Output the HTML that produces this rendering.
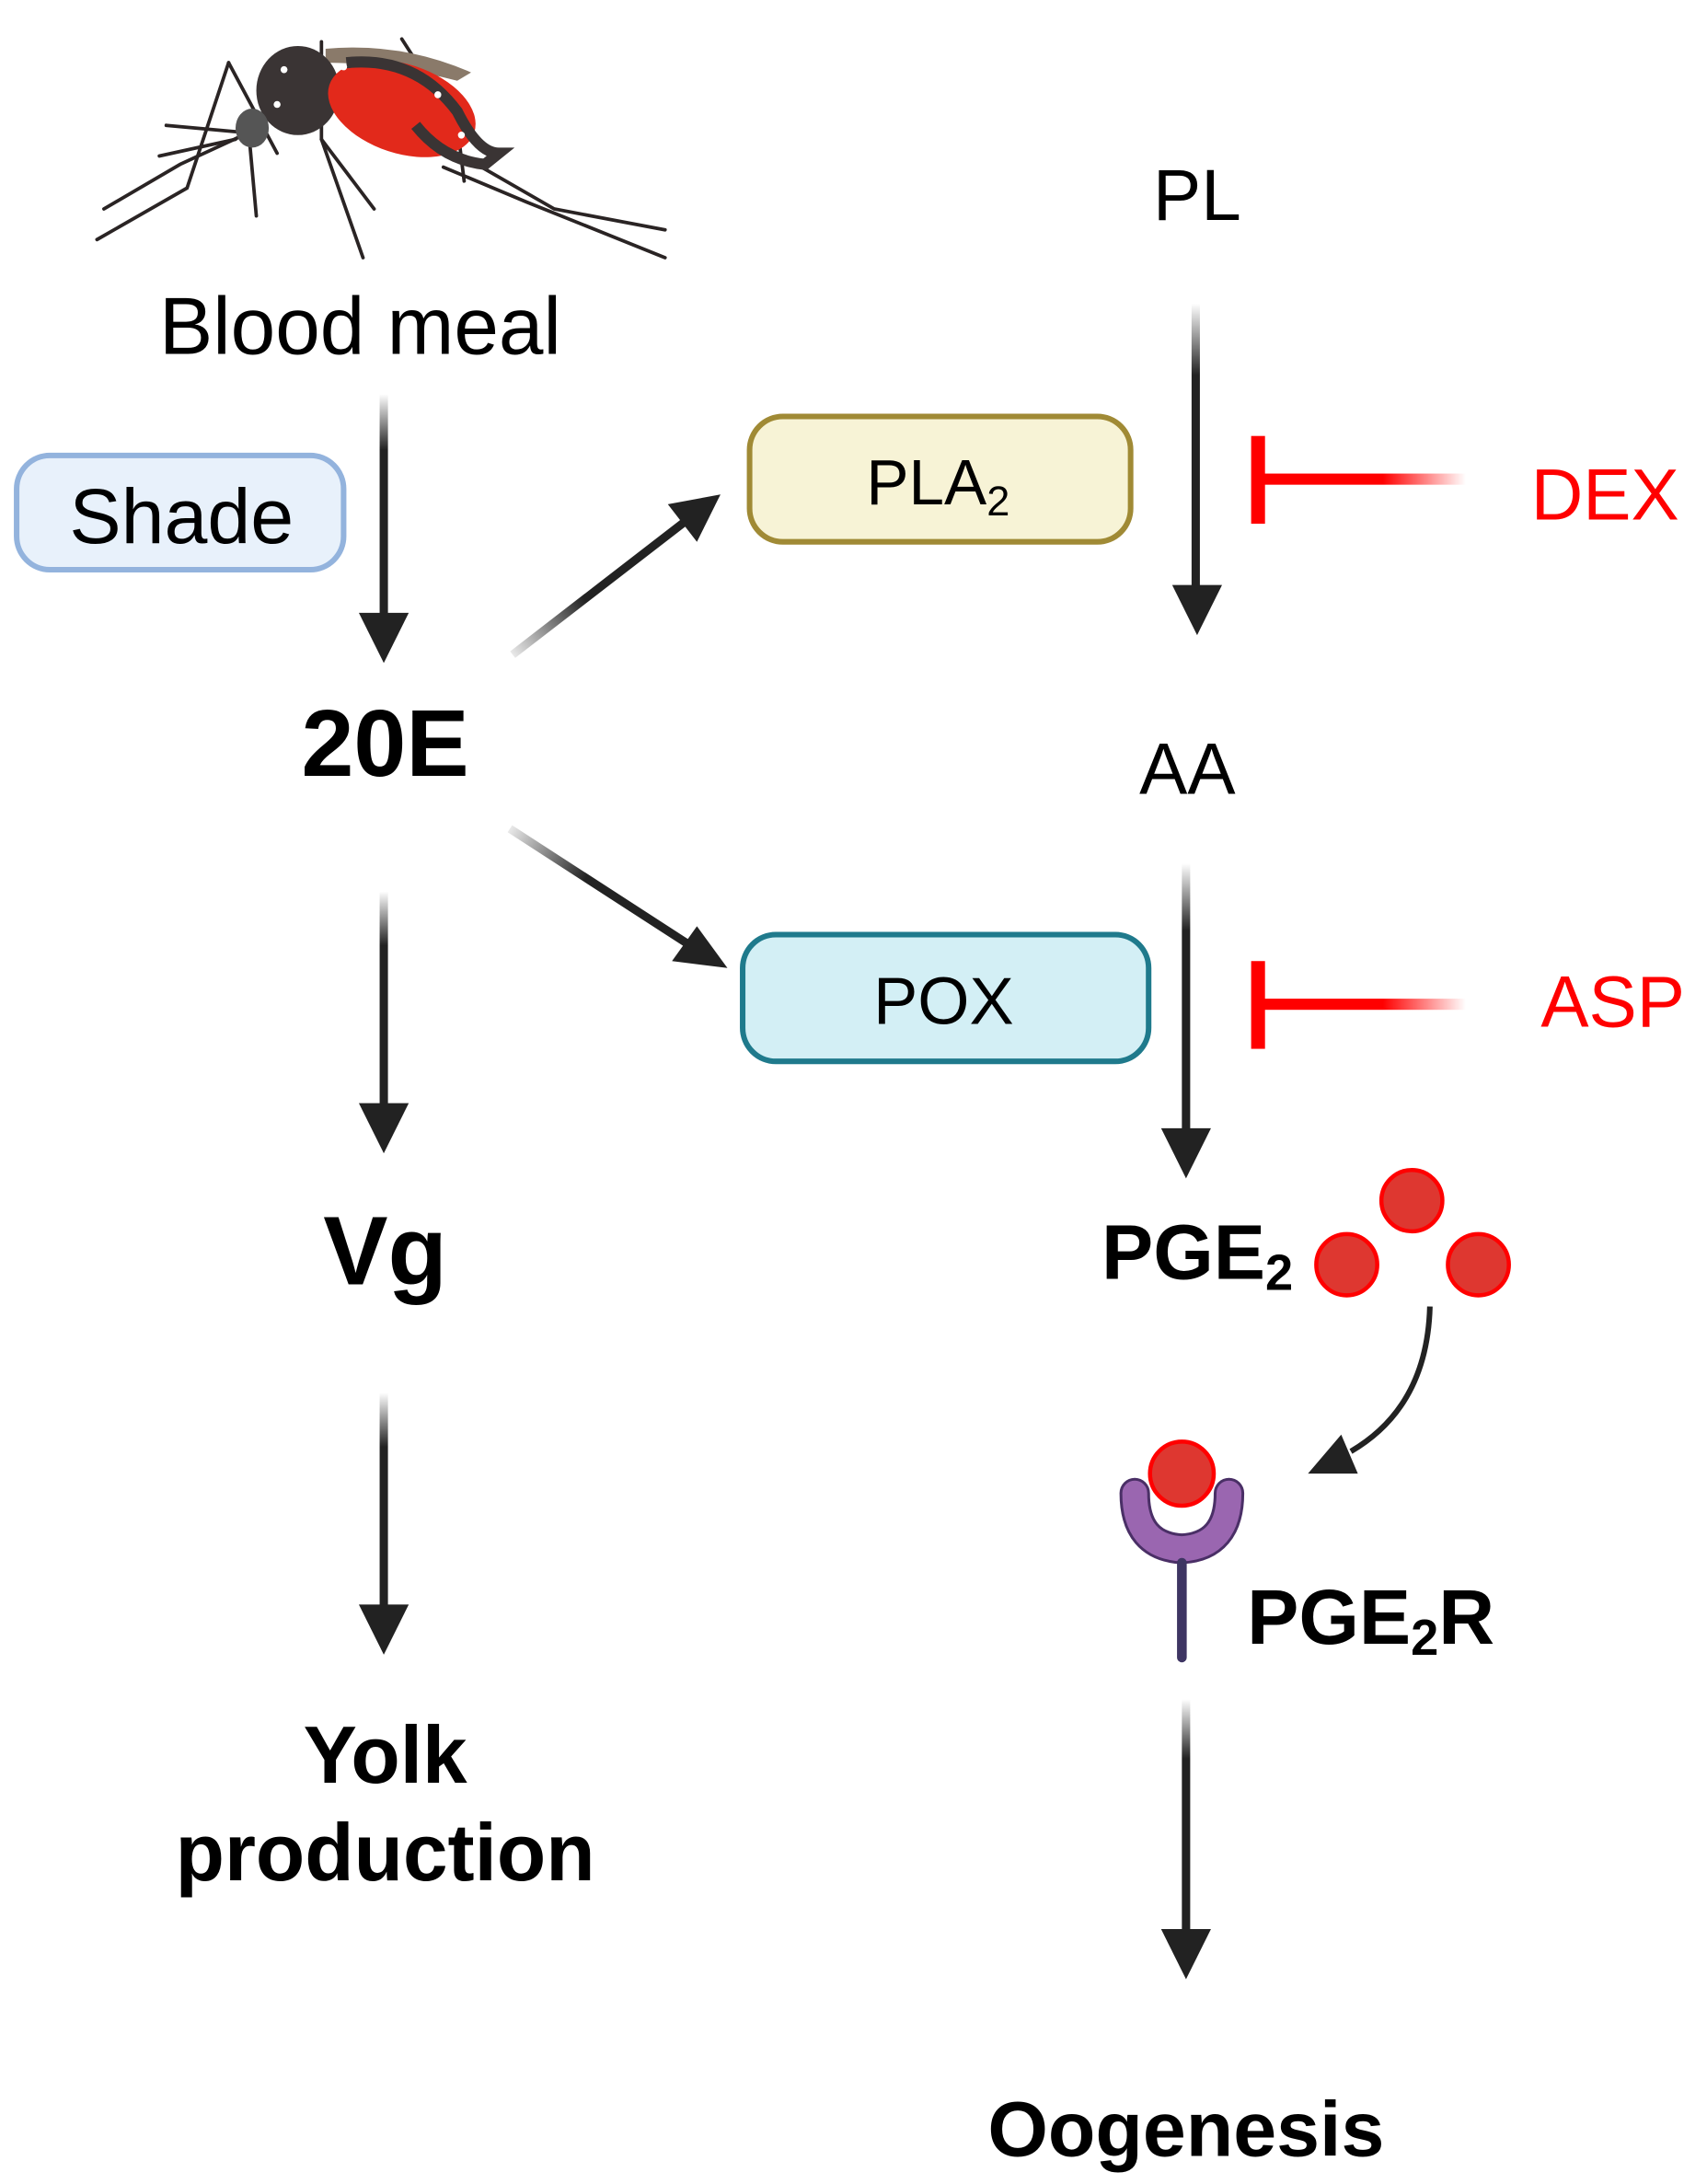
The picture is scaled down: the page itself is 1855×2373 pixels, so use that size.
<!DOCTYPE html>
<html><head><meta charset="utf-8"><style>
html,body{margin:0;padding:0;background:#fff;}
svg{display:block;}
text{font-family:"Liberation Sans",sans-serif;}
</style></head><body>
<svg width="1855" height="2373" viewBox="0 0 1232 1568" preserveAspectRatio="none" xmlns="http://www.w3.org/2000/svg">
<defs>
<linearGradient id="gv" x1="0" y1="0" x2="0" y2="1"><stop offset="0" stop-color="#222" stop-opacity="0"/><stop offset="0.25" stop-color="#222"/><stop offset="1" stop-color="#222"/></linearGradient>
<linearGradient id="gr" x1="1" y1="0" x2="0" y2="0"><stop offset="0" stop-color="#ff0000" stop-opacity="0"/><stop offset="0.4" stop-color="#ff0000"/><stop offset="1" stop-color="#ff0000"/></linearGradient>
<linearGradient id="gd1" gradientUnits="userSpaceOnUse" x1="370" y1="470" x2="500" y2="370"><stop offset="0" stop-color="#222" stop-opacity="0.1"/><stop offset="0.4" stop-color="#222"/></linearGradient>
<linearGradient id="gd2" gradientUnits="userSpaceOnUse" x1="368" y1="595" x2="505" y2="683"><stop offset="0" stop-color="#222" stop-opacity="0.1"/><stop offset="0.4" stop-color="#222"/></linearGradient>
</defs>

<!-- mosquito -->
<g stroke="#2a2424" stroke-width="2.5" fill="none" stroke-linecap="round">
<path d="M165 45 L135 135 L70 172"/>
<path d="M165 45 L200 110"/>
<path d="M180 95 L130 118 L75 150"/>
<path d="M232 30 L232 100 L262 185"/>
<path d="M232 100 L270 150"/>
<path d="M290 28 L330 90 L335 130"/>
<path d="M330 110 L400 150 L480 165"/>
<path d="M320 120 L380 145 L480 185"/>
<path d="M180 100 L185 155"/>
<path d="M120 90 L175 95"/>
<path d="M115 112 L170 100"/>
</g>
<path d="M235 35 Q290 30 340 52 L330 58 Q280 45 235 45Z" fill="#8a7a6a"/>
<ellipse cx="215" cy="65" rx="30" ry="32" fill="#3a3434"/>
<ellipse cx="290" cy="78" rx="55" ry="32" fill="#e2291b" transform="rotate(18 290 78)"/>
<path d="M250 45 Q300 40 330 80 Q345 110 360 110 L350 118 Q320 115 300 90" fill="none" stroke="#3a3434" stroke-width="8"/>
<ellipse cx="182" cy="92" rx="12" ry="14" fill="#555"/>
<g fill="#fff"><circle cx="205" cy="50" r="2.5"/><circle cx="200" cy="75" r="2.5"/><circle cx="248" cy="48" r="2.5"/><circle cx="316" cy="68" r="2.5"/><circle cx="333" cy="97" r="2.5"/></g>

<text x="260" y="254" font-size="58" text-anchor="middle">Blood meal</text>

<rect x="12" y="327" width="236" height="82" rx="24" fill="#e8f1fb" stroke="#93b3dd" stroke-width="4"/>
<text x="131" y="390" font-size="56" text-anchor="middle">Shade</text>

<rect x="274" y="283" width="6" height="160" fill="url(#gv)"/>
<polygon points="259,440 295,440 277,476" fill="#222"/>

<text x="278" y="557" font-size="68" font-weight="bold" text-anchor="middle">20E</text>

<line x1="370" y1="470" x2="495" y2="374" stroke="url(#gd1)" stroke-width="6"/>
<polygon points="520,355 482,362 503,389" fill="#222"/>

<rect x="541" y="299" width="275" height="90" rx="24" fill="#f7f3d6" stroke="#a08a35" stroke-width="4"/>
<text x="677" y="362" font-size="46" text-anchor="middle">PLA<tspan font-size="30" dy="8">2</tspan></text>

<text x="864" y="158" font-size="52" text-anchor="middle">PL</text>
<rect x="860" y="218" width="6" height="205" fill="url(#gv)"/>
<polygon points="846,420 882,420 864,456" fill="#222"/>

<rect x="903" y="313" width="10" height="63" fill="#ff0000"/>
<rect x="908" y="340" width="150" height="8" fill="url(#gr)"/>
<text x="1105" y="373" font-size="52" fill="#ff0000">DEX</text>

<text x="857" y="570" font-size="52" text-anchor="middle">AA</text>

<line x1="368" y1="595" x2="500" y2="680" stroke="url(#gd2)" stroke-width="6"/>
<polygon points="525,695 485,690 503,665" fill="#222"/>

<rect x="536" y="671" width="293" height="91" rx="24" fill="#d3eff5" stroke="#1f7a8c" stroke-width="4"/>
<text x="681" y="735" font-size="48" text-anchor="middle">POX</text>

<rect x="853" y="620" width="6" height="192" fill="url(#gv)"/>
<polygon points="838,810 874,810 856,846" fill="#222"/>

<rect x="903" y="690" width="10" height="63" fill="#ff0000"/>
<rect x="908" y="717" width="150" height="8" fill="url(#gr)"/>
<text x="1112" y="737" font-size="52" fill="#ff0000">ASP</text>

<rect x="274" y="640" width="6" height="155" fill="url(#gv)"/>
<polygon points="259,792 295,792 277,828" fill="#222"/>
<text x="278" y="922" font-size="70" font-weight="bold" text-anchor="middle">Vg</text>

<rect x="274" y="1000" width="6" height="155" fill="url(#gv)"/>
<polygon points="259,1152 295,1152 277,1188" fill="#222"/>
<text x="278" y="1280" font-size="58" font-weight="bold" text-anchor="middle">Yolk</text>
<text x="278" y="1350" font-size="58" font-weight="bold" text-anchor="middle">production</text>

<text x="795" y="918" font-size="56" font-weight="bold">PGE<tspan font-size="36" dy="8">2</tspan></text>
<g fill="#de3730" stroke="#ff0000" stroke-width="3">
<circle cx="1019" cy="862" r="22"/><circle cx="972" cy="908" r="22"/><circle cx="1067" cy="908" r="22"/>
</g>
<path d="M1032 938 Q1030 1010 975 1042" fill="none" stroke="#222" stroke-width="4"/>
<polygon points="944,1058 980,1058 968,1030" fill="#222"/>

<path d="M819 1072 Q819 1110 853 1112 Q887 1110 887 1072" fill="none" stroke="#4a2f66" stroke-width="22" stroke-linecap="round"/>
<path d="M819 1072 Q819 1110 853 1112 Q887 1110 887 1072" fill="none" stroke="#9a66b0" stroke-width="18" stroke-linecap="round"/>
<line x1="853" y1="1122" x2="853" y2="1190" stroke="#3e3563" stroke-width="7" stroke-linecap="round"/>
<circle cx="853" cy="1058" r="23" fill="#de3730" stroke="#ff0000" stroke-width="3"/>
<text x="900" y="1180" font-size="56" font-weight="bold">PGE<tspan font-size="36" dy="8">2</tspan><tspan dy="-8">R</tspan></text>

<rect x="853" y="1220" width="6" height="170" fill="url(#gv)"/>
<polygon points="838,1385 874,1385 856,1421" fill="#222"/>
<text x="856" y="1548" font-size="56" font-weight="bold" text-anchor="middle">Oogenesis</text>
</svg>
</body></html>
